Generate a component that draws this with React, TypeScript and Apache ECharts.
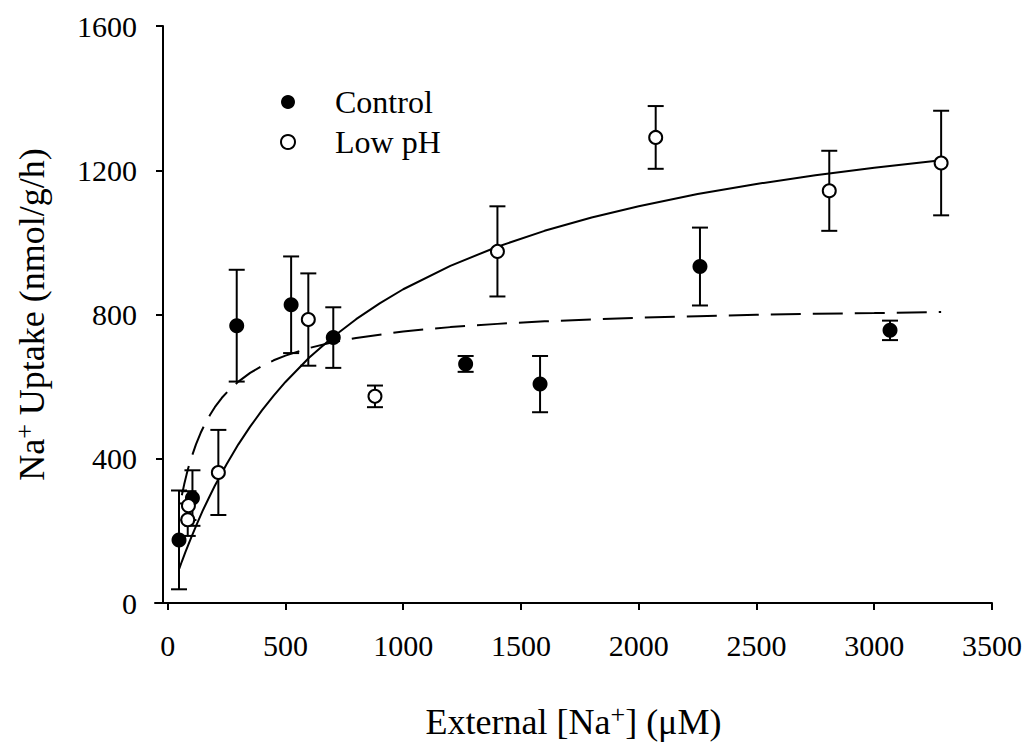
import React, { useEffect, useRef } from "react";
import * as echarts from "echarts";

const xTicks = [0, 500, 1000, 1500, 2000, 2500, 3000, 3500];

const controlX = [48, 105, 293, 524, 703, 1265, 1581, 2260, 3067];
const controlY = [175, 291, 769, 827, 736, 663, 607, 933, 756];
const controlErr = [137, 77, 155, 134, 84, 22, 78, 108, 27];

const lowPhX = [85, 88, 215, 597, 880, 1400, 2072, 2809, 3284];
const lowPhY = [231, 270, 362, 786, 573, 975, 1291, 1143, 1220];
const lowPhErr = [45, 40, 118, 128, 30, 125, 87, 111, 145];

const controlFitX = [60, 70, 80, 90, 100, 120, 140, 160, 180, 200, 230, 260, 300, 350, 400, 450, 500, 600, 700, 800, 900, 1000, 1200, 1400, 1600, 1800, 2000, 2250, 2500, 2750, 3000, 3284];
const controlFitY = [299, 329, 356, 381, 402, 440, 472, 499, 522, 543, 569, 590, 614, 638, 657, 673, 686, 707, 723, 735, 744, 753, 765, 774, 781, 786, 791, 795, 799, 802, 804, 807];

const lowPhFitX = [49, 60, 75, 100, 125, 150, 175, 200, 250, 300, 350, 400, 450, 500, 600, 700, 800, 900, 1000, 1200, 1400, 1600, 1800, 2000, 2250, 2500, 2750, 3000, 3284];
const lowPhFitY = [95, 115, 141, 182, 221, 258, 292, 325, 385, 440, 489, 534, 575, 613, 680, 737, 787, 831, 870, 935, 988, 1032, 1069, 1100, 1134, 1162, 1186, 1207, 1228];

const FONT = "'Liberation Serif', 'Times New Roman', serif";

function pairs(xs: number[], ys: number[]) {
  return xs.map((x, i) => [x, ys[i]]);
}
function errs(xs: number[], ys: number[], es: number[]) {
  return xs.map((x, i) => [x, ys[i] - es[i], ys[i] + es[i]]);
}

function errorRender(params: any, api: any) {
  const x = api.value(0);
  const lo = api.coord([x, api.value(1)]);
  const hi = api.coord([x, api.value(2)]);
  const w = 8;
  const style = { stroke: "#000", lineWidth: 2 };
  return {
    type: "group",
    children: [
      { type: "line", shape: { x1: lo[0], y1: lo[1], x2: hi[0], y2: hi[1] }, style },
      { type: "line", shape: { x1: lo[0] - w, y1: lo[1], x2: lo[0] + w, y2: lo[1] }, style },
      { type: "line", shape: { x1: hi[0] - w, y1: hi[1], x2: hi[0] + w, y2: hi[1] }, style },
    ],
  };
}

export default function App() {
  const ref = useRef<HTMLDivElement>(null);
  useEffect(() => {
    if (!ref.current) return;
    const chart = echarts.init(ref.current, null, { renderer: "svg" });
    chart.setOption({
      animation: false,
      backgroundColor: "#fff",
      textStyle: { fontFamily: FONT, color: "#000" },
      grid: { left: 155, right: 38, top: 26, bottom: 145, containLabel: false },
      legend: {
        orient: "vertical",
        left: 275,
        top: 79,
        itemWidth: 14,
        itemHeight: 14,
        itemGap: 4,
        data: ["Control", "Low pH"],
        textStyle: { fontFamily: FONT, fontSize: 32, color: "#000", padding: [0, 0, 0, 35], lineHeight: 36 },
      },
      xAxis: {
        type: "value",
        min: -54,
        max: 3500,
        name: "{a|External [Na}{s|+}{a|] (μM)}",
        nameLocation: "middle",
        nameGap: 98,
        nameTextStyle: {
          rich: {
            a: { fontFamily: FONT, fontSize: 36, color: "#000", lineHeight: 42 },
            s: { fontFamily: FONT, fontSize: 26, color: "#000", verticalAlign: "top", lineHeight: 26 },
          },
        },
        axisLine: { onZero: false, lineStyle: { color: "#000", width: 2 } },
        axisTick: { customValues: xTicks, length: 7, lineStyle: { color: "#000", width: 2 } },
        axisLabel: {
          customValues: xTicks,
          formatter: (v: number) => String(v),
          fontFamily: FONT,
          fontSize: 30,
          color: "#000",
          margin: 27,
        },
        splitLine: { show: false },
      },
      yAxis: {
        type: "value",
        min: 0,
        max: 1600,
        interval: 400,
        offset: -8,
        name: "{a|Na}{s|+}{a| Uptake (nmol/g/h)}",
        nameLocation: "middle",
        nameRotate: 90,
        nameGap: 110,
        nameTextStyle: {
          rich: {
            a: { fontFamily: FONT, fontSize: 36, color: "#000", lineHeight: 42 },
            s: { fontFamily: FONT, fontSize: 26, color: "#000", verticalAlign: "top", lineHeight: 26 },
          },
        },
        axisLine: { show: true, onZero: false, lineStyle: { color: "#000", width: 2 } },
        axisTick: { show: true, length: 7, lineStyle: { color: "#000", width: 2 } },
        axisLabel: {
          formatter: (v: number) => String(v),
          fontFamily: FONT,
          fontSize: 30,
          color: "#000",
          margin: 26,
        },
        splitLine: { show: false },
      },
      series: [
        {
          name: "Low pH fit",
          type: "line",
          data: pairs(lowPhFitX, lowPhFitY),
          smooth: false,
          showSymbol: false,
          symbol: "none",
          lineStyle: { color: "#000", width: 2 },
          z: 1,
        },
        {
          name: "Control fit",
          type: "line",
          data: pairs(controlFitX, controlFitY),
          smooth: false,
          showSymbol: false,
          symbol: "none",
          lineStyle: { color: "#000", width: 2, type: [30, 12] },
          z: 1,
        },
        {
          name: "Control err",
          type: "custom",
          renderItem: errorRender,
          data: errs(controlX, controlY, controlErr),
          encode: { x: 0, y: [1, 2] },
          z: 2,
        },
        {
          name: "Low pH err",
          type: "custom",
          renderItem: errorRender,
          data: errs(lowPhX, lowPhY, lowPhErr),
          encode: { x: 0, y: [1, 2] },
          z: 2,
        },
        {
          name: "Control",
          type: "scatter",
          data: pairs(controlX, controlY),
          symbol: "circle",
          symbolSize: 15,
          itemStyle: { color: "#000", borderColor: "#000", borderWidth: 0, opacity: 1 },
          z: 3,
        },
        {
          name: "Low pH",
          type: "scatter",
          data: pairs(lowPhX, lowPhY),
          symbol: "circle",
          symbolSize: 13,
          itemStyle: { color: "#fff", borderColor: "#000", borderWidth: 2, opacity: 1 },
          z: 4,
        },
      ],
    });
    return () => chart.dispose();
  }, []);
  return (
    <div
      ref={ref}
      style={{ position: "fixed", left: 0, top: 0, width: 1030, height: 748, background: "#fff" }}
    />
  );
}
